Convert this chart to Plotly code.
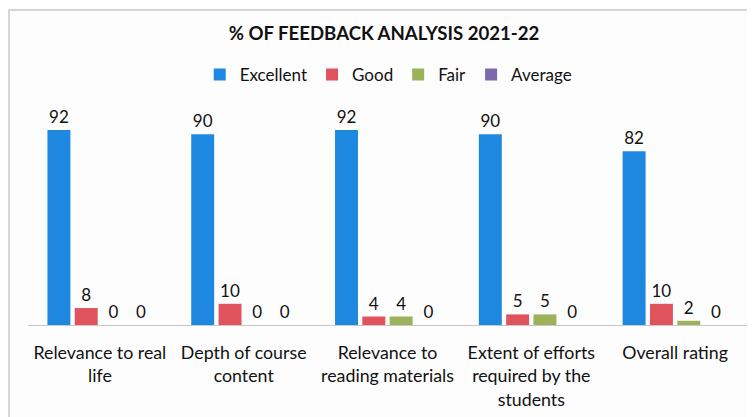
import plotly.graph_objects as go

categories = ["Relevance to real<br>life", "Depth of course<br>content", "Relevance to<br>reading materials",
              "Extent of efforts<br>required by the<br>students", "Overall rating"]
series_names = ["Excellent", "Good", "Fair", "Average"]
excellent = [92, 90, 92, 90, 82]
good = [8, 10, 4, 5, 10]
fair = [0, 0, 4, 5, 2]
average = [0, 0, 0, 0, 0]
colors = ["#1E88E0", "#E0525C", "#9BB25A", "#7C6BA8"]

FONT = "Lato, Carlito, Calibri, sans-serif"

# plot area (figure px): left 20, right 739, top 105, bottom 317
L, R, T, B = 20, 739, 105, 317
PW, PH = R - L, B - T

fig = go.Figure()
for name, vals, col in zip(series_names, [excellent, good, fair, average], colors):
    fig.add_trace(go.Bar(
        name=name, x=categories, y=vals, marker=dict(color=col, line=dict(width=0)),
        text=[str(v) for v in vals], textposition="outside", cliponaxis=False,
        textfont=dict(family=FONT, size=17, color="#111111"),
    ))

fig.update_layout(
    width=755, height=417,
    paper_bgcolor="#fdfdfd", plot_bgcolor="#fdfdfd",
    margin=dict(l=L, r=755 - R, t=T, b=417 - B, autoexpand=False),
    barmode="group", bargap=0.24, bargroupgap=0.16,
    title=dict(text="<b>% OF FEEDBACK ANALYSIS 2021-22</b>", x=0.498, xanchor="center",
               y=1 - 25 / 417, yanchor="middle",
               font=dict(family=FONT, size=18.6, color="#111111")),
    legend=dict(orientation="h", x=0.501, xanchor="center", y=(B - 67) / PH, yanchor="middle",
                font=dict(family=FONT, size=17, color="#111111"),
                bgcolor="rgba(0,0,0,0)"),
    showlegend=True,
    font=dict(family=FONT, color="#111111"),
)
fig.update_xaxes(showline=True, linecolor="#c8c8c8", linewidth=1, showgrid=False, automargin=False,
                 ticks="outside", ticklen=12, tickcolor="rgba(0,0,0,0)",
                 tickfont=dict(family=FONT, size=17.8, color="#111111"))
fig.update_yaxes(range=[0, 100], visible=False, showgrid=False, zeroline=False, automargin=False)

# photo border
fig.add_shape(type="rect", xref="paper", yref="paper",
              x0=(1 - L) / PW, x1=(770 - L) / PW,
              y0=(B - 440) / PH, y1=(B - 2) / PH,
              line=dict(color="#c9c9c9", width=1.5), fillcolor="rgba(0,0,0,0)", layer="below")

fig.write_html("out.html")
